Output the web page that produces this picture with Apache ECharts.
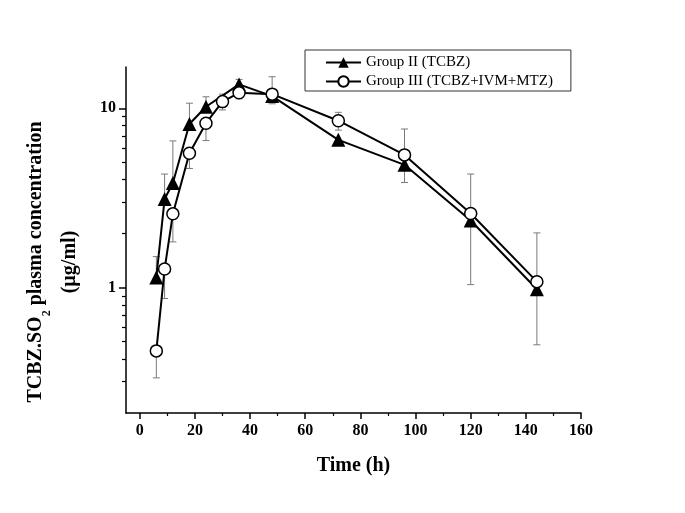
<!DOCTYPE html>
<html>
<head>
<meta charset="utf-8">
<script src="https://cdn.jsdelivr.net/npm/echarts@6/dist/echarts.min.js"></script>
<style>
html,body{margin:0;padding:0;background:#fff;}
#chart{width:685px;height:513px;}
</style>
</head>
<body>
<div id="chart"></div>
<script>
// ---- Data ----
const timesII = [6, 9, 12, 18, 24, 36, 48, 72, 96, 120, 144];
const groupII = [1.14, 3.12, 3.83, 8.18, 10.2, 13.6, 11.7, 6.67, 4.84, 2.37, 0.98];
const errUpII = [0.35, 1.18, 2.75, 2.5, 1.4, 0.9, 0, 0, 0, 0, 0];
const errDownII = [0, 0, 0, 0, 0, 0, 1.1, 0, 0.98, 1.33, 0.5];

const timesIII = [6, 9, 12, 18, 24, 30, 36, 48, 72, 96, 120, 144];
const groupIII = [0.444, 1.27, 2.58, 5.62, 8.26, 10.9, 12.2, 12.0, 8.53, 5.5, 2.59, 1.08];
const errUpIII = [0, 0, 0, 0, 0, 1.1, 0, 3.0, 0.97, 2.17, 1.71, 0.94];
const errDownIII = [0.13, 0.40, 0.78, 1.0, 1.65, 1.1, 0.9, 0, 0.97, 0, 0, 0];

const xTickLabels = [0, 20, 40, 60, 80, 100, 120, 140, 160];
const xMinorTicks = [10, 30, 50, 70, 90, 110, 130, 150];
const yTickLabels = [1, 10];
const yMinorTicks = [0.3, 0.4, 0.5, 0.6, 0.7, 0.8, 0.9, 2, 3, 4, 5, 6, 7, 8, 9];

const seriesNames = ['Group II (TCBZ)', 'Group III (TCBZ+IVM+MTZ)'];

// ---- Build options ----
const SERIF = 'Liberation Serif';
function pairs(xs, ys) { return xs.map((x, i) => [x, ys[i]]); }
function errData(xs, ys, up, dn) {
  return xs.map((x, i) => [x, ys[i] - dn[i], ys[i] + up[i], up[i] > 0 ? 1 : 0, dn[i] > 0 ? 1 : 0]);
}
function errRender(params, api) {
  const t = api.value(0), lo = api.value(1), hi = api.value(2);
  const hasUp = api.value(3), hasDn = api.value(4);
  if (!hasUp && !hasDn) return null;
  const pHi = api.coord([t, hi]);
  const pLo = api.coord([t, lo]);
  const st = { stroke: '#7a7a7a', lineWidth: 1 };
  const ch = [{ type: 'line', shape: { x1: pHi[0], y1: pHi[1], x2: pLo[0], y2: pLo[1] }, style: st }];
  if (hasUp) ch.push({ type: 'line', shape: { x1: pHi[0] - 3.5, y1: pHi[1], x2: pHi[0] + 3.5, y2: pHi[1] }, style: st });
  if (hasDn) ch.push({ type: 'line', shape: { x1: pLo[0] - 3.5, y1: pLo[1], x2: pLo[0] + 3.5, y2: pLo[1] }, style: st });
  return { type: 'group', children: ch };
}

const gridBox = { left: 126, top: 67, right: 104, bottom: 100 };
const labelFont = { fontFamily: SERIF, fontWeight: 'bold', fontSize: 16, color: '#000' };

const option = {
  animation: false,
  backgroundColor: '#fff',
  grid: [Object.assign({}, gridBox), Object.assign({}, gridBox)],
  legend: {
    data: seriesNames,
    orient: 'vertical',
    left: 305, top: 50,
    borderColor: '#333', borderWidth: 1,
    padding: [5, 18, 2, 20],
    itemWidth: 35, itemHeight: 13, itemGap: 4,
    textStyle: { fontFamily: SERIF, fontSize: 15, color: '#000' }
  },
  xAxis: [
    {
      gridIndex: 0, type: 'value', min: -5, max: 160,
      name: 'Time (h)', nameLocation: 'middle', nameGap: 43,
      nameTextStyle: { fontFamily: SERIF, fontWeight: 'bold', fontSize: 20, color: '#000' },
      axisLine: { show: true, onZero: false, lineStyle: { color: '#000', width: 1.5 } },
      axisTick: { show: true, customValues: xTickLabels, length: 6, lineStyle: { color: '#000', width: 1.5 } },
      axisLabel: Object.assign({ customValues: xTickLabels, margin: 10 }, labelFont),
      splitLine: { show: false }
    },
    {
      gridIndex: 1, type: 'value', min: -5, max: 160,
      axisLine: { show: false, onZero: false },
      axisTick: { show: true, customValues: xMinorTicks, length: 3, lineStyle: { color: '#000', width: 1.2 } },
      axisLabel: { show: false },
      splitLine: { show: false }
    }
  ],
  yAxis: [
    {
      gridIndex: 0, type: 'log', min: 0.2, max: 17, logBase: 10,
      axisLine: { show: true, onZero: false, lineStyle: { color: '#000', width: 1.5 } },
      axisTick: { show: true, customValues: yTickLabels, length: 7, lineStyle: { color: '#000', width: 1.5 } },
      axisLabel: Object.assign({ customValues: yTickLabels, margin: 10, formatter: v => String(Math.round(v)) }, labelFont),
      splitLine: { show: false }
    },
    {
      gridIndex: 1, type: 'log', min: 0.2, max: 17, logBase: 10,
      axisLine: { show: false, onZero: false },
      axisTick: { show: true, customValues: yMinorTicks, length: 4, lineStyle: { color: '#000', width: 1.2 } },
      axisLabel: { show: false },
      splitLine: { show: false }
    }
  ],
  graphic: [{
    type: 'text',
    x: 53, y: 262,
    rotation: Math.PI / 2,
    style: {
      text: '{b|TCBZ.SO}{s|2}{b| plasma concentration}\n{b|(µg/ml)}',
      textAlign: 'center',
      textVerticalAlign: 'middle',
      fill: '#000',
      rich: {
        b: { fontFamily: SERIF, fontWeight: 'bold', fontSize: 20, lineHeight: 34, fill: '#000' },
        s: { fontFamily: SERIF, fontWeight: 'bold', fontSize: 12, lineHeight: 23, verticalAlign: 'bottom', fill: '#000' }
      }
    }
  }],
  series: [
    {
      type: 'custom', name: 'errII', xAxisIndex: 0, yAxisIndex: 0, silent: true, z: 1,
      renderItem: errRender, encode: { x: 0, y: [1, 2] },
      data: errData(timesII, groupII, errUpII, errDownII)
    },
    {
      type: 'custom', name: 'errIII', xAxisIndex: 0, yAxisIndex: 0, silent: true, z: 1,
      renderItem: errRender, encode: { x: 0, y: [1, 2] },
      data: errData(timesIII, groupIII, errUpIII, errDownIII)
    },
    {
      type: 'line', name: seriesNames[0], xAxisIndex: 0, yAxisIndex: 0, z: 3,
      data: pairs(timesII, groupII),
      symbol: 'triangle', symbolSize: 14,
      lineStyle: { color: '#000', width: 2 },
      itemStyle: { color: '#000', borderColor: '#000', borderWidth: 0 }
    },
    {
      type: 'line', name: seriesNames[1], xAxisIndex: 0, yAxisIndex: 0, z: 4,
      data: pairs(timesIII, groupIII),
      symbol: 'circle', symbolSize: 12,
      lineStyle: { color: '#000', width: 2 },
      itemStyle: { color: '#fff', borderColor: '#000', borderWidth: 1.5 }
    }
  ]
};

const chart = echarts.init(document.getElementById('chart'), null, { renderer: 'canvas' });
chart.setOption(option);
</script>
</body>
</html>
